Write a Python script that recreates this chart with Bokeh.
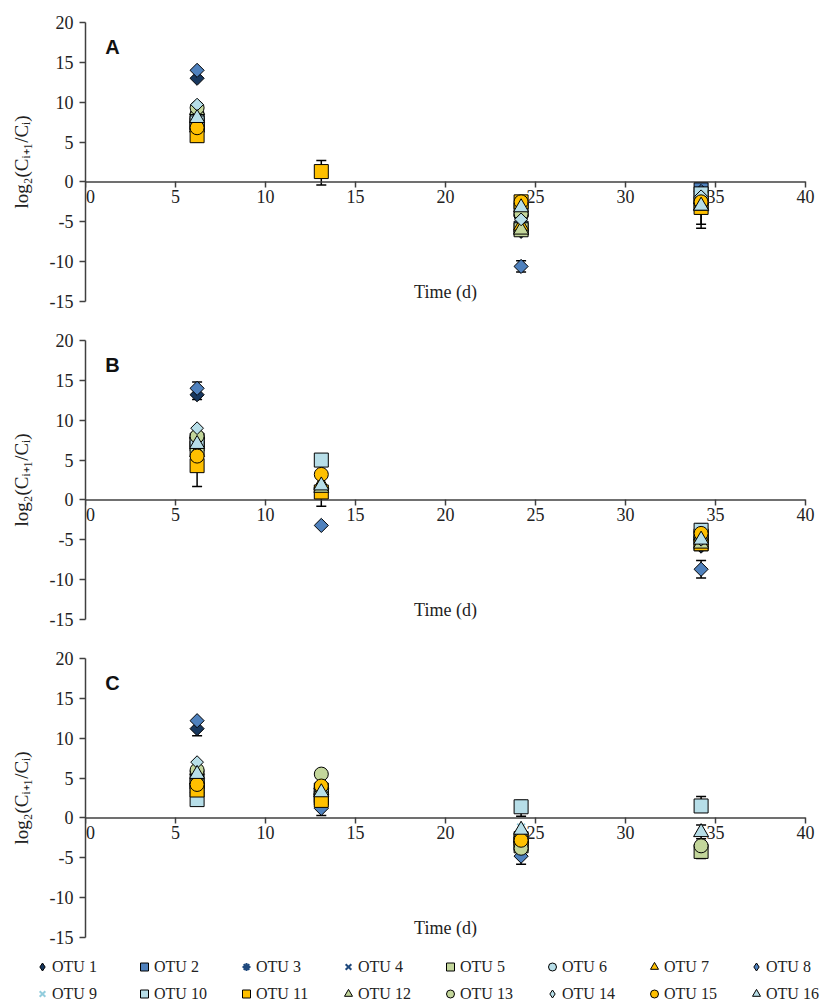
import math
from bokeh.plotting import figure
from bokeh.layouts import column
from bokeh.models import (Range1d, ColumnDataSource, Whisker, TeeHead, Label, LabelSet,
                          Legend, LegendItem, FixedTicker)
from bokeh.embed import file_html
from bokeh.resources import INLINE

nan = float("nan")

# ---------------- data ----------------
times = [6.2, 13.1, 24.2, 34.2]
x_ticks = [0, 5, 10, 15, 20, 25, 30, 35, 40]
y_ticks = [-15, -10, -5, 0, 5, 10, 15, 20]
otu_labels = ["OTU 1", "OTU 2", "OTU 3", "OTU 4", "OTU 5", "OTU 6", "OTU 7", "OTU 8",
              "OTU 9", "OTU 10", "OTU 11", "OTU 12", "OTU 13", "OTU 14", "OTU 15", "OTU 16"]

panel_A = [
    [13.0, nan, -6.2, -2.0],
    [7.5, nan, -5.8, -1.0],
    [7.8, nan, -5.5, -1.5],
    [8.0, nan, -5.0, -1.8],
    [7.2, nan, -6.0, -2.8],
    [8.5, nan, -4.2, -2.0],
    [6.8, nan, -5.5, -2.2],
    [14.0, nan, -10.6, -1.2],
    [8.8, nan, -4.5, -2.5],
    [7.4, nan, -3.5, -1.5],
    [5.8, 1.3, -2.5, -3.2],
    [9.0, nan, -6.0, -3.0],
    [9.3, nan, -4.0, -2.6],
    [9.7, nan, -4.7, -1.8],
    [6.8, nan, -2.5, -2.5],
    [8.0, nan, -3.2, -3.0],
]
panel_B = [
    [13.2, nan, nan, -5.8],
    [7.0, nan, nan, -4.5],
    [7.5, nan, nan, -5.2],
    [7.2, nan, nan, -5.0],
    [6.5, nan, nan, -5.5],
    [7.8, nan, nan, -4.0],
    [6.0, 2.0, nan, -4.5],
    [14.0, -3.2, nan, -8.7],
    [8.0, nan, nan, -4.8],
    [7.5, 5.0, nan, -3.8],
    [4.3, 1.0, nan, -5.5],
    [8.3, 1.5, nan, -5.5],
    [8.0, nan, nan, -4.6],
    [9.0, nan, nan, -5.0],
    [5.5, 3.2, nan, -4.2],
    [7.0, 1.8, nan, -5.0],
]
panel_C = [
    [11.2, 2.0, -3.0, nan],
    [4.5, 2.5, -3.2, nan],
    [5.0, 3.0, -2.8, nan],
    [5.2, 3.0, -2.0, nan],
    [4.0, 3.5, -3.5, -4.2],
    [5.8, 3.8, -2.2, nan],
    [4.8, 4.2, -2.5, nan],
    [12.2, 1.2, -4.8, nan],
    [5.5, 3.0, -1.2, nan],
    [2.3, 2.8, 1.4, 1.5],
    [3.5, 2.2, -2.6, nan],
    [6.0, 3.5, -2.0, nan],
    [6.0, 5.5, -3.8, -3.5],
    [7.0, 3.6, -2.0, nan],
    [4.2, 4.0, -2.8, nan],
    [5.5, 3.2, -1.5, -1.8],
]
# error bars: (otu index, time index, lower, upper)
err_A = [(10, 0, 5.0, 6.6), (10, 1, -0.4, 2.7), (7, 2, -11.3, -9.9),
         (10, 3, -5.8, -0.6), (4, 3, -5.3, -0.4)]
err_B = [(0, 0, 12.6, 14.8), (10, 0, 1.7, 4.3), (10, 1, -0.8, 1.0),
         (7, 3, -9.8, -7.6), (0, 3, -6.3, -3.0)]
err_C = [(0, 0, 10.3, 12.0), (7, 1, 0.3, 2.0), (9, 2, 0.2, 2.2), (7, 2, -5.8, -4.8),
         (9, 3, 1.0, 2.7), (15, 3, -2.6, -0.9), (4, 3, -5.1, -3.3)]

# ---------------- styles ----------------
Q = math.pi / 4
STYLES = [
    dict(marker="square", fill_color="#17375E", line_color="#000000", size=10, angle=Q),
    dict(marker="square", fill_color="#4F81BD", line_color="#000000", size=14),
    dict(marker="asterisk", fill_color=None, line_color="#1F497D", size=12, line_width=2),
    dict(marker="x", fill_color=None, line_color="#1F497D", size=11, line_width=2),
    dict(marker="square", fill_color="#C3D69B", line_color="#000000", size=14),
    dict(marker="circle", fill_color="#B7DEE8", line_color="#000000", size=14),
    dict(marker="triangle", fill_color="#FFC000", line_color="#000000", size=15),
    dict(marker="square", fill_color="#4F81BD", line_color="#000000", size=10, angle=Q),
    dict(marker="x", fill_color=None, line_color="#93CDDD", size=11, line_width=2),
    dict(marker="square", fill_color="#B7DEE8", line_color="#000000", size=14),
    dict(marker="square", fill_color="#FFC000", line_color="#000000", size=14),
    dict(marker="triangle", fill_color="#C3D69B", line_color="#000000", size=15),
    dict(marker="circle", fill_color="#C3D69B", line_color="#000000", size=14),
    dict(marker="square", fill_color="#B7DEE8", line_color="#000000", size=9, angle=Q),
    dict(marker="circle", fill_color="#FFC000", line_color="#000000", size=14),
    dict(marker="triangle", fill_color="#B7DEE8", line_color="#000000", size=15),
]

SERIF = "Liberation Serif"
AX_COLOR = "#404040"
TXT = "#222222"
FRAME_W = 731
X_END = x_ticks[-1] * FRAME_W / 720.0   # a little room right of 40 for its label


def scatter_kw(st, legend=False):
    marker = st["marker"]
    angle = st.get("angle", 0)
    if legend and angle:
        marker, angle = "diamond", 0   # legend glyphs ignore the angle
    return dict(marker=marker, size=st["size"], fill_color=st["fill_color"],
                line_color=st["line_color"], line_width=st.get("line_width", 1),
                angle=angle)


def make_panel(letter, vals, errs):
    p = figure(frame_width=FRAME_W, frame_height=279, x_range=Range1d(0, X_END),
               y_range=Range1d(-15, 20), output_backend="svg", toolbar_location=None,
               min_border_left=85, min_border_right=823 - 85 - FRAME_W,
               min_border_top=22, min_border_bottom=17)
    p.xgrid.visible = False
    p.ygrid.visible = False
    p.outline_line_color = None

    p.xaxis.fixed_location = 0
    p.xaxis.ticker = FixedTicker(ticks=x_ticks)
    p.xaxis.major_label_text_color = None
    p.xaxis.axis_line_color = None
    p.yaxis.ticker = FixedTicker(ticks=y_ticks)
    p.yaxis.major_label_overrides = {t: str(t) for t in y_ticks}
    p.yaxis.axis_line_color = AX_COLOR
    p.yaxis.axis_line_width = 1.5
    for ax in (p.xaxis, p.yaxis):
        ax.major_tick_line_color = AX_COLOR
        ax.major_tick_line_width = 1.5
        ax.major_tick_in = 0
        ax.major_tick_out = 6
        ax.minor_tick_line_color = None
        ax.major_label_text_font = SERIF
        ax.major_label_text_font_size = "18px"
    p.yaxis.major_label_text_color = TXT
    p.yaxis.major_label_standoff = 6
    p.yaxis.axis_label = "log\u2082(C\u1d62\u208a\u2081/C\u1d62)"
    p.yaxis.axis_label_text_font = SERIF
    p.yaxis.axis_label_text_font_size = "19px"
    p.yaxis.axis_label_text_font_style = "normal"
    p.yaxis.axis_label_text_color = TXT
    p.yaxis.axis_label_standoff = 15

    # x axis line along y = 0, from first to last tick
    p.segment(x0=[x_ticks[0]], y0=[0], x1=[x_ticks[-1]], y1=[0],
              line_color=AX_COLOR, line_width=1.5)

    # x tick labels just below the y = 0 axis line
    tick_src = ColumnDataSource(dict(x=x_ticks, y=[0] * len(x_ticks),
                                     t=[str(v) for v in x_ticks],
                                     dx=[5 if v == x_ticks[0] else 0 for v in x_ticks]))
    p.add_layout(LabelSet(x="x", y="y", text="t", source=tick_src, y_offset=-8,
                          x_offset="dx", text_align="center", text_baseline="top",
                          text_font=SERIF, text_font_size="18px", text_color=TXT))

    # error bars
    for (oi, ti, lo, hi) in errs:
        src = ColumnDataSource(dict(base=[times[ti]], lower=[lo], upper=[hi]))
        w = Whisker(base="base", lower="lower", upper="upper", source=src,
                    dimension="height", line_color="#000000", line_width=1.5,
                    upper_head=TeeHead(size=10, line_color="#000000", line_width=1.5),
                    lower_head=TeeHead(size=10, line_color="#000000", line_width=1.5),
                    level="underlay")
        p.add_layout(w)

    for i, st in enumerate(STYLES):
        xs = [t for t, v in zip(times, vals[i]) if not math.isnan(v)]
        ys = [v for v in vals[i] if not math.isnan(v)]
        p.scatter(x=xs, y=ys, **scatter_kw(st))

    p.add_layout(Label(x=1.1, y=16.9, text=letter, text_font="Liberation Sans",
                       text_font_style="bold", text_font_size="20px",
                       text_baseline="middle", text_color="#111111"))
    p.add_layout(Label(x=20, y=-13.85, text="Time (d)", text_font=SERIF,
                       text_font_size="18px", text_align="center",
                       text_baseline="middle", text_color=TXT))
    return p


pA = make_panel("A", panel_A, err_A)
pB = make_panel("B", panel_B, err_B)
pC = make_panel("C", panel_C, err_C)

# legend strip: its own root, holding panel C's series outside its visible range
pl = figure(width=823, height=52, x_range=Range1d(100, 101), y_range=Range1d(100, 101),
            output_backend="svg", toolbar_location=None,
            x_axis_location=None, y_axis_location=None,
            min_border_left=0, min_border_right=0, min_border_top=0, min_border_bottom=0)
pl.xgrid.visible = False
pl.ygrid.visible = False
pl.outline_line_color = None
items = []
for i, st in enumerate(STYLES):
    r = pl.scatter(x=times, y=panel_C[i], **scatter_kw(st, legend=True))
    items.append(LegendItem(label=otu_labels[i], renderers=[r]))
leg = Legend(items=items, ncols=8, location=(32, 0), orientation="horizontal",
             label_text_font="Liberation Serif, Times New Roman, serif",
             label_text_font_size="16px",
             label_text_color=TXT, glyph_width=20, glyph_height=25,
             label_standoff=0, label_width=80, label_height=20, spacing=2,
             padding=0, margin=0, background_fill_alpha=0, border_line_alpha=0)
pl.add_layout(leg, "center")

layout = column(pA, pB, pC, spacing=0)
open("out.html", "w").write(file_html([layout, pl], INLINE))
